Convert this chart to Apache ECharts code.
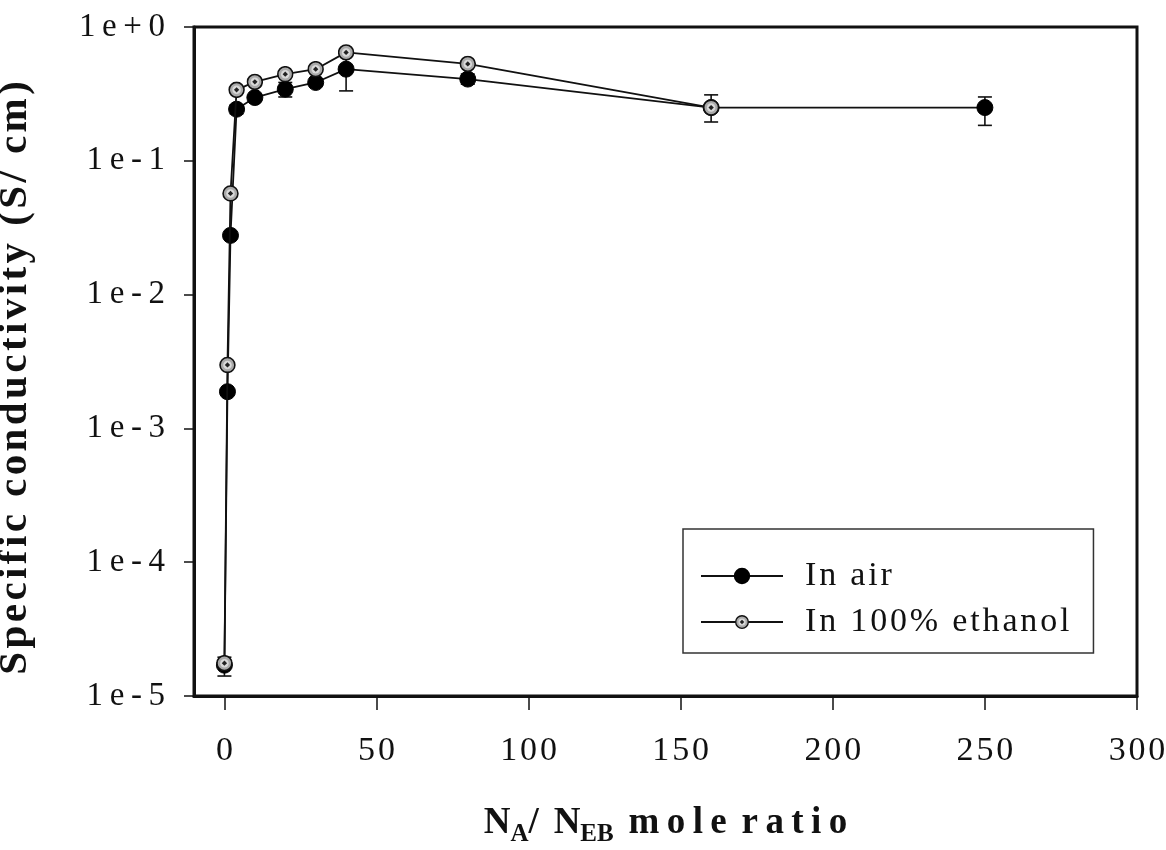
<!DOCTYPE html>
<html>
<head>
<meta charset="utf-8">
<script src="https://cdn.jsdelivr.net/npm/echarts@6/dist/echarts.min.js"></script>
<style>
  html, body { margin: 0; padding: 0; background: #fff; }
  #chart { width: 1166px; height: 850px; }
</style>
</head>
<body>
<div id="chart"></div>
<script>
// N_A / N_EB mole ratios and specific conductivity (S/cm)
const airRatio = [0, 1, 2, 4, 10, 20, 30, 40, 80, 160, 250];
const airCond = [1.7e-5, 0.00188, 0.0277, 0.243, 0.297, 0.343, 0.385, 0.484, 0.408, 0.25, 0.25];

const ethRatio = [0, 1, 2, 4, 10, 20, 30, 40, 80, 160];
const ethCond = [1.76e-5, 0.00298, 0.057, 0.339, 0.389, 0.444, 0.484, 0.646, 0.53, 0.25];

// error bars: ratio, lower bound, upper bound
const airErrRatio = [4, 20, 40, 80, 250];
const airErrLow = [0.225, 0.30, 0.333, 0.374, 0.184];
const airErrHigh = [0.262, 0.385, 0.63, 0.445, 0.30];

const ethErrRatio = [0, 160];
const ethErrLow = [1.41e-5, 0.195];
const ethErrHigh = [1.95e-5, 0.311];

const xTicks = [0, 50, 100, 150, 200, 250, 300];
const seriesNames = ['In air', 'In 100% ethanol'];

const SERIF = '"Liberation Serif", "DejaVu Serif", serif';
const HAIR = '\u200A';
const THIN = '\u2009';
const spread = (s, gap) => s.split('').join(gap);

// grey ring marker with a dark centre dot
const ringSvg =
  '<svg xmlns="http://www.w3.org/2000/svg" width="32" height="32" viewBox="0 0 32 32">' +
  '<circle cx="16" cy="16" r="14" fill="#a9a9a9" stroke="#111" stroke-width="3"/>' +
  '<circle cx="16" cy="16" r="8" fill="#d9d9d9"/>' +
  '<path d="M16 11 L21 16 L16 21 L11 16 Z" fill="#222"/>' +
  '</svg>';
const ringSymbol = 'image://data:image/svg+xml;charset=utf-8,' + encodeURIComponent(ringSvg);

const pairs = (xs, ys) => xs.map((x, i) => [x, ys[i]]);
const triples = (xs, lo, hi) => xs.map((x, i) => [x, lo[i], hi[i]]);

function errorBars(params, api) {
  const x = api.value(0);
  const pLo = api.coord([x, api.value(1)]);
  const pHi = api.coord([x, api.value(2)]);
  const half = 7;
  const style = { stroke: '#111', lineWidth: 1.6 };
  return {
    type: 'group',
    children: [
      { type: 'line', shape: { x1: pLo[0], y1: pLo[1], x2: pHi[0], y2: pHi[1] }, style },
      { type: 'line', shape: { x1: pLo[0] - half, y1: pLo[1], x2: pLo[0] + half, y2: pLo[1] }, style },
      { type: 'line', shape: { x1: pHi[0] - half, y1: pHi[1], x2: pHi[0] + half, y2: pHi[1] }, style }
    ]
  };
}

function expLabel(v) {
  const e = Math.round(Math.log10(v));
  const s = e >= 0 ? '1e+' + e : '1e' + e;
  return spread(s, THIN);
}

const chart = echarts.init(document.getElementById('chart'));
chart.setOption({
  backgroundColor: '#fff',
  animation: false,
  grid: {
    left: 194, right: 29, top: 27, bottom: 154,
    outerBoundsMode: 'none',
    containLabel: false,
    show: true, borderColor: '#111', borderWidth: 3, backgroundColor: 'transparent'
  },
  legend: {
    data: seriesNames,
    orient: 'vertical',
    left: 683, top: 529,
    backgroundColor: '#fff',
    borderColor: '#333', borderWidth: 1.5,
    padding: [30, 24, 14, 17],
    itemWidth: 82, itemHeight: 18, itemGap: 12,
    formatter: name => spread(name, HAIR),
    textStyle: { fontFamily: SERIF, fontSize: 34, color: '#111', padding: [0, 0, 0, 17] }
  },
  xAxis: {
    type: 'value',
    min: -10, max: 300,
    name: '{b|N}{sub|A}{b|/\u2009\u2009N}{sub|EB}{b|\u2009\u2009m\u2009o\u2009l\u2009e\u2009\u2009r\u2009a\u2009t\u2009i\u2009o}',
    nameLocation: 'middle',
    nameGap: 104,
    nameTextStyle: {
      rich: {
        b: { fontFamily: SERIF, fontWeight: 'bold', fontSize: 37, color: '#111' },
        sub: { fontFamily: SERIF, fontWeight: 'bold', fontSize: 25, color: '#111', padding: [22, 0, 0, 0] }
      }
    },
    splitLine: { show: false },
    axisLine: { show: true, onZero: false, lineStyle: { color: '#111', width: 3 } },
    axisTick: { show: true, customValues: xTicks, length: 14, lineStyle: { color: '#111', width: 1.5 } },
    axisLabel: {
      customValues: xTicks, margin: 38,
      fontFamily: SERIF, fontSize: 34, color: '#111',
      formatter: v => spread(String(v), HAIR)
    }
  },
  yAxis: {
    type: 'log', logBase: 10,
    min: 1e-5, max: 1,
    // trailing thin spaces nudge the rotated title toward the bottom
    name: spread('Specific conductivity (S/ cm)', HAIR) + THIN + THIN + THIN + THIN,
    nameLocation: 'middle',
    nameRotate: 90,
    nameGap: 158,
    nameTextStyle: { fontFamily: SERIF, fontWeight: 'bold', fontSize: 41, color: '#111' },
    splitLine: { show: false },
    axisLine: { show: true, onZero: false, lineStyle: { color: '#111', width: 3 } },
    axisTick: { show: true, length: 10, lineStyle: { color: '#111', width: 1.5 } },
    axisLabel: {
      margin: 29,
      fontFamily: SERIF, fontSize: 33, color: '#111',
      formatter: expLabel
    }
  },
  series: [
    {
      type: 'custom', name: 'air-err', z: 1,
      renderItem: errorBars,
      encode: { x: 0, y: [1, 2] },
      data: triples(airErrRatio, airErrLow, airErrHigh)
    },
    {
      type: 'custom', name: 'eth-err', z: 1,
      renderItem: errorBars,
      encode: { x: 0, y: [1, 2] },
      data: triples(ethErrRatio, ethErrLow, ethErrHigh)
    },
    {
      type: 'line', name: seriesNames[0], z: 2,
      data: pairs(airRatio, airCond),
      symbol: 'circle', symbolSize: 16,
      itemStyle: { color: '#000', borderColor: '#000', borderWidth: 1 },
      lineStyle: { color: '#111', width: 1.8 }
    },
    {
      type: 'line', name: seriesNames[1], z: 3,
      data: pairs(ethRatio, ethCond),
      symbol: ringSymbol, symbolSize: 17,
      itemStyle: { color: '#888' },
      lineStyle: { color: '#111', width: 1.8 }
    }
  ]
});
</script>
</body>
</html>
